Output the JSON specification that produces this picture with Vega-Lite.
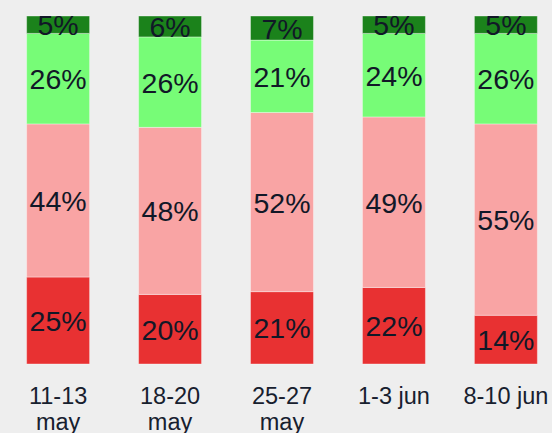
{
  "$schema": "https://vega.github.io/schema/vega-lite/v6.json",
  "autosize": {"type": "none"},
  "width": 550,
  "height": 348,
  "padding": {"left": 2, "right": 0, "top": 16, "bottom": 69},
  "background": "#eeeeee",
  "config": {"view": {"stroke": null}, "font": "Liberation Sans"},
  "data": {
    "values": [
      {"period": "11-13 may", "cat": "a", "o": 1, "v": 25},
      {"period": "11-13 may", "cat": "b", "o": 2, "v": 44},
      {"period": "11-13 may", "cat": "c", "o": 3, "v": 26},
      {"period": "11-13 may", "cat": "d", "o": 4, "v": 5},
      {"period": "18-20 may", "cat": "a", "o": 1, "v": 20},
      {"period": "18-20 may", "cat": "b", "o": 2, "v": 48},
      {"period": "18-20 may", "cat": "c", "o": 3, "v": 26},
      {"period": "18-20 may", "cat": "d", "o": 4, "v": 6},
      {"period": "25-27 may", "cat": "a", "o": 1, "v": 21},
      {"period": "25-27 may", "cat": "b", "o": 2, "v": 52},
      {"period": "25-27 may", "cat": "c", "o": 3, "v": 21},
      {"period": "25-27 may", "cat": "d", "o": 4, "v": 7},
      {"period": "1-3 jun", "cat": "a", "o": 1, "v": 22},
      {"period": "1-3 jun", "cat": "b", "o": 2, "v": 49},
      {"period": "1-3 jun", "cat": "c", "o": 3, "v": 24},
      {"period": "1-3 jun", "cat": "d", "o": 4, "v": 5},
      {"period": "8-10 jun", "cat": "a", "o": 1, "v": 14},
      {"period": "8-10 jun", "cat": "b", "o": 2, "v": 55},
      {"period": "8-10 jun", "cat": "c", "o": 3, "v": 26},
      {"period": "8-10 jun", "cat": "d", "o": 4, "v": 5}
    ]
  },
  "transform": [
    {"stack": "v", "groupby": ["period"], "sort": [{"field": "o", "order": "ascending"}], "as": ["y0", "y1"], "offset": "normalize"},
    {"calculate": "(datum.y0 + datum.y1) / 2", "as": "ym"},
    {"calculate": "datum.v + '%'", "as": "lab"}
  ],
  "encoding": {
    "x": {
      "field": "period",
      "type": "nominal",
      "sort": ["11-13 may", "18-20 may", "25-27 may", "1-3 jun", "8-10 jun"],
      "scale": {"range": [0, 560], "paddingInner": 0.4375, "paddingOuter": 0.22},
      "axis": {
        "title": null,
        "domain": false,
        "ticks": false,
        "labelAngle": 0,
        "labelFont": "Liberation Sans",
        "labelFontSize": 23.5,
        "labelColor": "#17202e",
        "labelPadding": 20,
        "labelBaseline": "top",
        "labelLineHeight": 26,
        "labelLimit": 0,
        "labelExpr": "indexof(datum.value, 'may') >= 0 ? split(datum.value, ' ') : datum.value"
      }
    }
  },
  "layer": [
    {
      "mark": {"type": "bar", "stroke": "#ffffff", "strokeWidth": 0.75, "strokeOpacity": 0.5},
      "encoding": {
        "y": {"field": "y0", "type": "quantitative", "scale": {"domain": [0, 1]}, "axis": null},
        "y2": {"field": "y1"},
        "color": {
          "field": "cat",
          "type": "nominal",
          "scale": {"domain": ["a", "b", "c", "d"], "range": ["#e83132", "#f9a4a4", "#77fc77", "#1b821b"]},
          "legend": null
        }
      }
    },
    {
      "mark": {"type": "text", "font": "Liberation Sans", "fontSize": 28.5, "color": "#111827", "baseline": "middle", "dy": 1.5},
      "encoding": {
        "y": {"field": "ym", "type": "quantitative"},
        "text": {"field": "lab", "type": "nominal"}
      }
    }
  ]
}
